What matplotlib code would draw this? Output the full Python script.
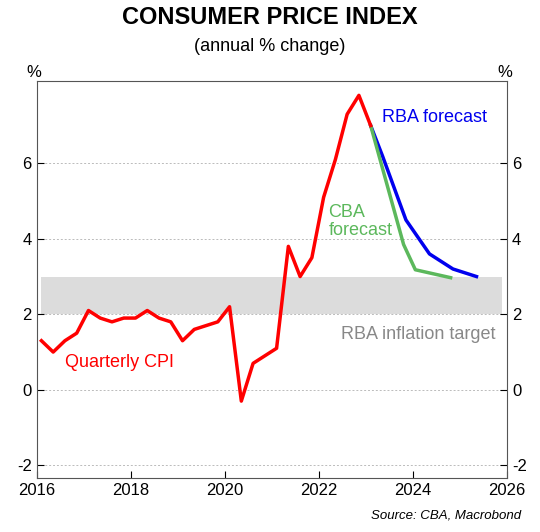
import matplotlib
matplotlib.use("Agg")
import matplotlib.pyplot as plt
plt.rcParams['font.family'] = ['Liberation Sans', 'DejaVu Sans']
plt.rcParams['axes.unicode_minus'] = False

cpi_t = [2016.1 + 0.25*i for i in range(29)]
cpi = [1.3,1.0,1.3,1.5,2.1,1.9,1.8,1.9,1.9,2.1,1.9,1.8,1.3,1.6,1.7,1.8,2.2,-0.3,0.7,0.9,1.1,3.8,3.0,3.5,5.1,6.1,7.3,7.8,7.0]
rba_t = [2023.1,2023.35,2023.85,2024.35,2024.85,2025.35]
rba = [7.0,6.2,4.5,3.6,3.2,3.0]
cba_t = [2023.1,2023.8,2024.05,2024.8]
cba = [7.0,3.85,3.18,2.97]

fig = plt.figure(figsize=(5.4,5.32), dpi=100)
ax = fig.add_axes([0.068, 0.102, 0.871, 0.745])
ax.set_xlim(2016, 2026)
ax.set_ylim(-2.33, 8.17)
ax.fill_between([2016.1, 2025.9], 2, 3, color="#dcdcdc", lw=0, zorder=0)
for y in [-2, 0, 2, 4, 6]:
    ax.axhline(y, color="#bbbbbb", ls=(0,(2,2)), lw=0.7, zorder=0)
ax.plot(rba_t, rba, color="#0000ee", lw=2.5, zorder=2)
ax.plot(cba_t, cba, color="#5cb85c", lw=2.5, zorder=3)
ax.plot(cpi_t, cpi, color="#ff0000", lw=2.5, zorder=4)
ax.set_yticks([-2,0,2,4,6])
ax.set_xticks([2016,2018,2020,2022,2024,2026])
ax.tick_params(labelsize=12, direction="in", length=5, right=True, labelright=True)
for s in ax.spines.values():
    s.set_color("#555555")
ax.text(2016.6, 0.6, "Quarterly CPI", color="#ff0000", fontsize=13)
ax.text(2023.35, 7.1, "RBA forecast", color="#0000ee", fontsize=13)
ax.text(2022.2, 4.1, "CBA\nforecast", color="#5cb85c", fontsize=13, linespacing=1.1)
ax.text(2025.75, 1.35, "RBA inflation target", color="#888888", fontsize=13, ha="right")
fig.text(0.5, 0.955, "CONSUMER PRICE INDEX", ha="center", fontsize=17, fontweight="bold")
fig.text(0.5, 0.905, "(annual % change)", ha="center", fontsize=13)
fig.text(0.062, 0.855, "%", ha="center", fontsize=12)
fig.text(0.935, 0.855, "%", ha="center", fontsize=12)
fig.text(0.965, 0.025, "Source: CBA, Macrobond", ha="right", fontsize=9.5, style="italic")
fig.savefig("out.png", dpi=100)
